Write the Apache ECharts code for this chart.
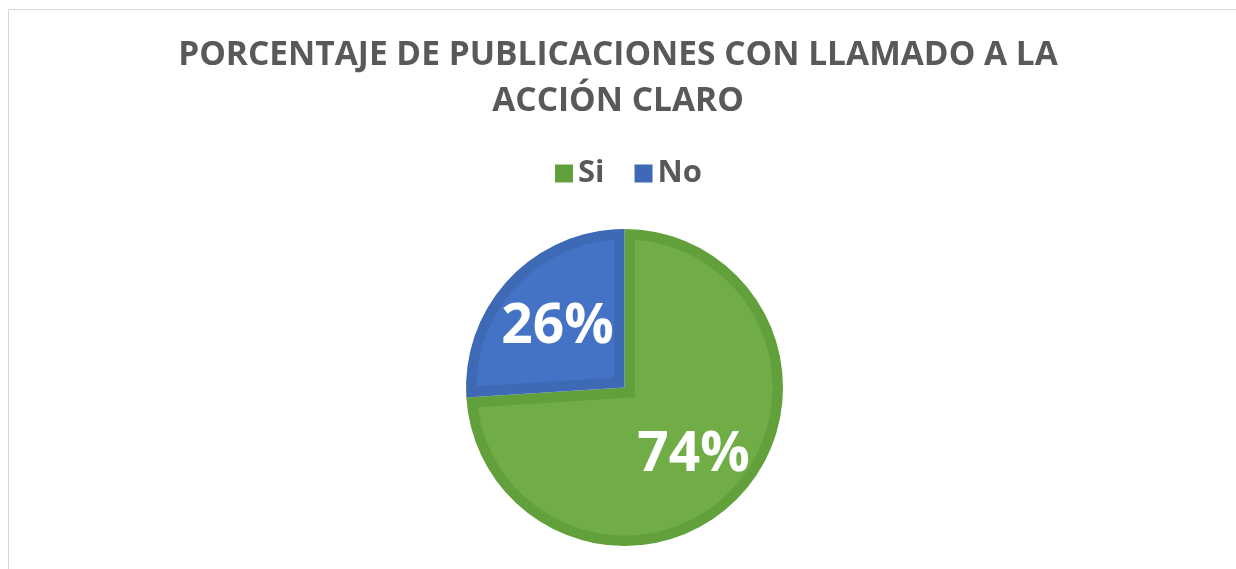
<!DOCTYPE html>
<html>
<head>
<meta charset="utf-8">
<title>Porcentaje de publicaciones con llamado a la acción claro</title>
<script src="https://cdn.jsdelivr.net/npm/echarts@6/dist/echarts.min.js"></script>
<style>
  html, body { margin: 0; padding: 0; background: #ffffff; }
  #chart { width: 1236px; height: 569px; }
</style>
</head>
<body>
<div id="chart"></div>
<script>
// Chart data
const titleText = 'PORCENTAJE DE PUBLICACIONES CON LLAMADO A LA\nACCIÓN CLARO';
const categories = ['Si', 'No'];
const percentages = [74, 26];
const fillColors = ['#70AD47', '#4472C4'];
const edgeColors = ['#62A03C', '#3D69B5'];

// Pie geometry (pixels)
const CX = 624.5;
const CY = 387.5;
const R = 158.5;
const BAND = 10.5;   // width of the darker inner rim of every slice

const total = percentages.reduce((a, b) => a + b, 0);
const rad = (deg) => deg * Math.PI / 180;
const toXY = (ang, r) => [CX + r * Math.cos(rad(ang)), CY - r * Math.sin(rad(ang))];

// Lighter face of each slice, inset from all of its edges by BAND
function renderFace(params, api) {
  const i = params.dataIndex;
  let before = 0;
  for (let j = 0; j < i; j++) before += percentages[j];
  const a0 = 90 - 360 * before / total;
  const a1 = a0 - 360 * api.value(0) / total;
  const span = a0 - a1;
  const mid = (a0 + a1) / 2;
  const r = R - BAND;
  const delta = Math.asin(BAND / r) * 180 / Math.PI;
  const pts = [toXY(mid, BAND / Math.sin(rad(span / 2)))];
  const steps = 240;
  const from = a0 - delta, to = a1 + delta;
  for (let k = 0; k <= steps; k++) {
    pts.push(toXY(from + (to - from) * k / steps, r));
  }
  return {
    type: 'polygon',
    shape: { points: pts },
    style: { fill: fillColors[i] }
  };
}

const chart = echarts.init(document.getElementById('chart'), null, { renderer: 'canvas' });

chart.setOption({
  animation: false,
  backgroundColor: '#ffffff',
  graphic: [{
    type: 'rect',
    silent: true,
    shape: { x: 8.5, y: 9.5, width: 1400, height: 800 },
    style: { fill: 'none', stroke: '#d9d9d9', lineWidth: 1 }
  }],
  title: {
    text: titleText,
    left: 'center',
    top: 32,
    padding: [0, 0, 0, 20],
    textStyle: {
      fontFamily: 'Open Sans',
      fontWeight: 'bold',
      fontSize: 33.5,
      lineHeight: 46,
      color: '#595959'
    }
  },
  legend: {
    data: categories,
    left: 555,
    top: 158,
    padding: 0,
    itemWidth: 18,
    itemHeight: 18,
    itemGap: 30,
    icon: 'rect',
    selectedMode: false,
    textStyle: {
      fontFamily: 'Open Sans',
      fontWeight: 'bold',
      fontSize: 31,
      lineHeight: 18,
      color: '#595959'
    }
  },
  series: [
    {
      // full slices in the darker rim colour
      type: 'pie',
      center: [CX, CY],
      radius: [0, R],
      startAngle: 90,
      clockwise: true,
      silent: true,
      z: 1,
      label: { show: false },
      labelLine: { show: false },
      data: categories.map((name, i) => ({
        name,
        value: percentages[i],
        itemStyle: { color: edgeColors[i], borderWidth: 0 }
      }))
    },
    {
      type: 'custom',
      coordinateSystem: 'none',
      silent: true,
      z: 2,
      renderItem: renderFace,
      data: percentages.map(v => [v])
    },
    {
      // value labels
      type: 'pie',
      center: [CX, CY],
      radius: [22, R],
      startAngle: 90,
      clockwise: true,
      silent: true,
      z: 3,
      itemStyle: { color: 'rgba(0,0,0,0)', borderWidth: 0 },
      label: {
        show: true,
        position: 'inside',
        formatter: (p) => p.value + '%',
        fontFamily: 'Open Sans',
        fontWeight: 'bold',
        fontSize: 55,
        color: '#ffffff',
        offset: [1, 4]
      },
      labelLine: { show: false },
      data: categories.map((name, i) => ({ name, value: percentages[i] }))
    }
  ]
});
</script>
</body>
</html>
